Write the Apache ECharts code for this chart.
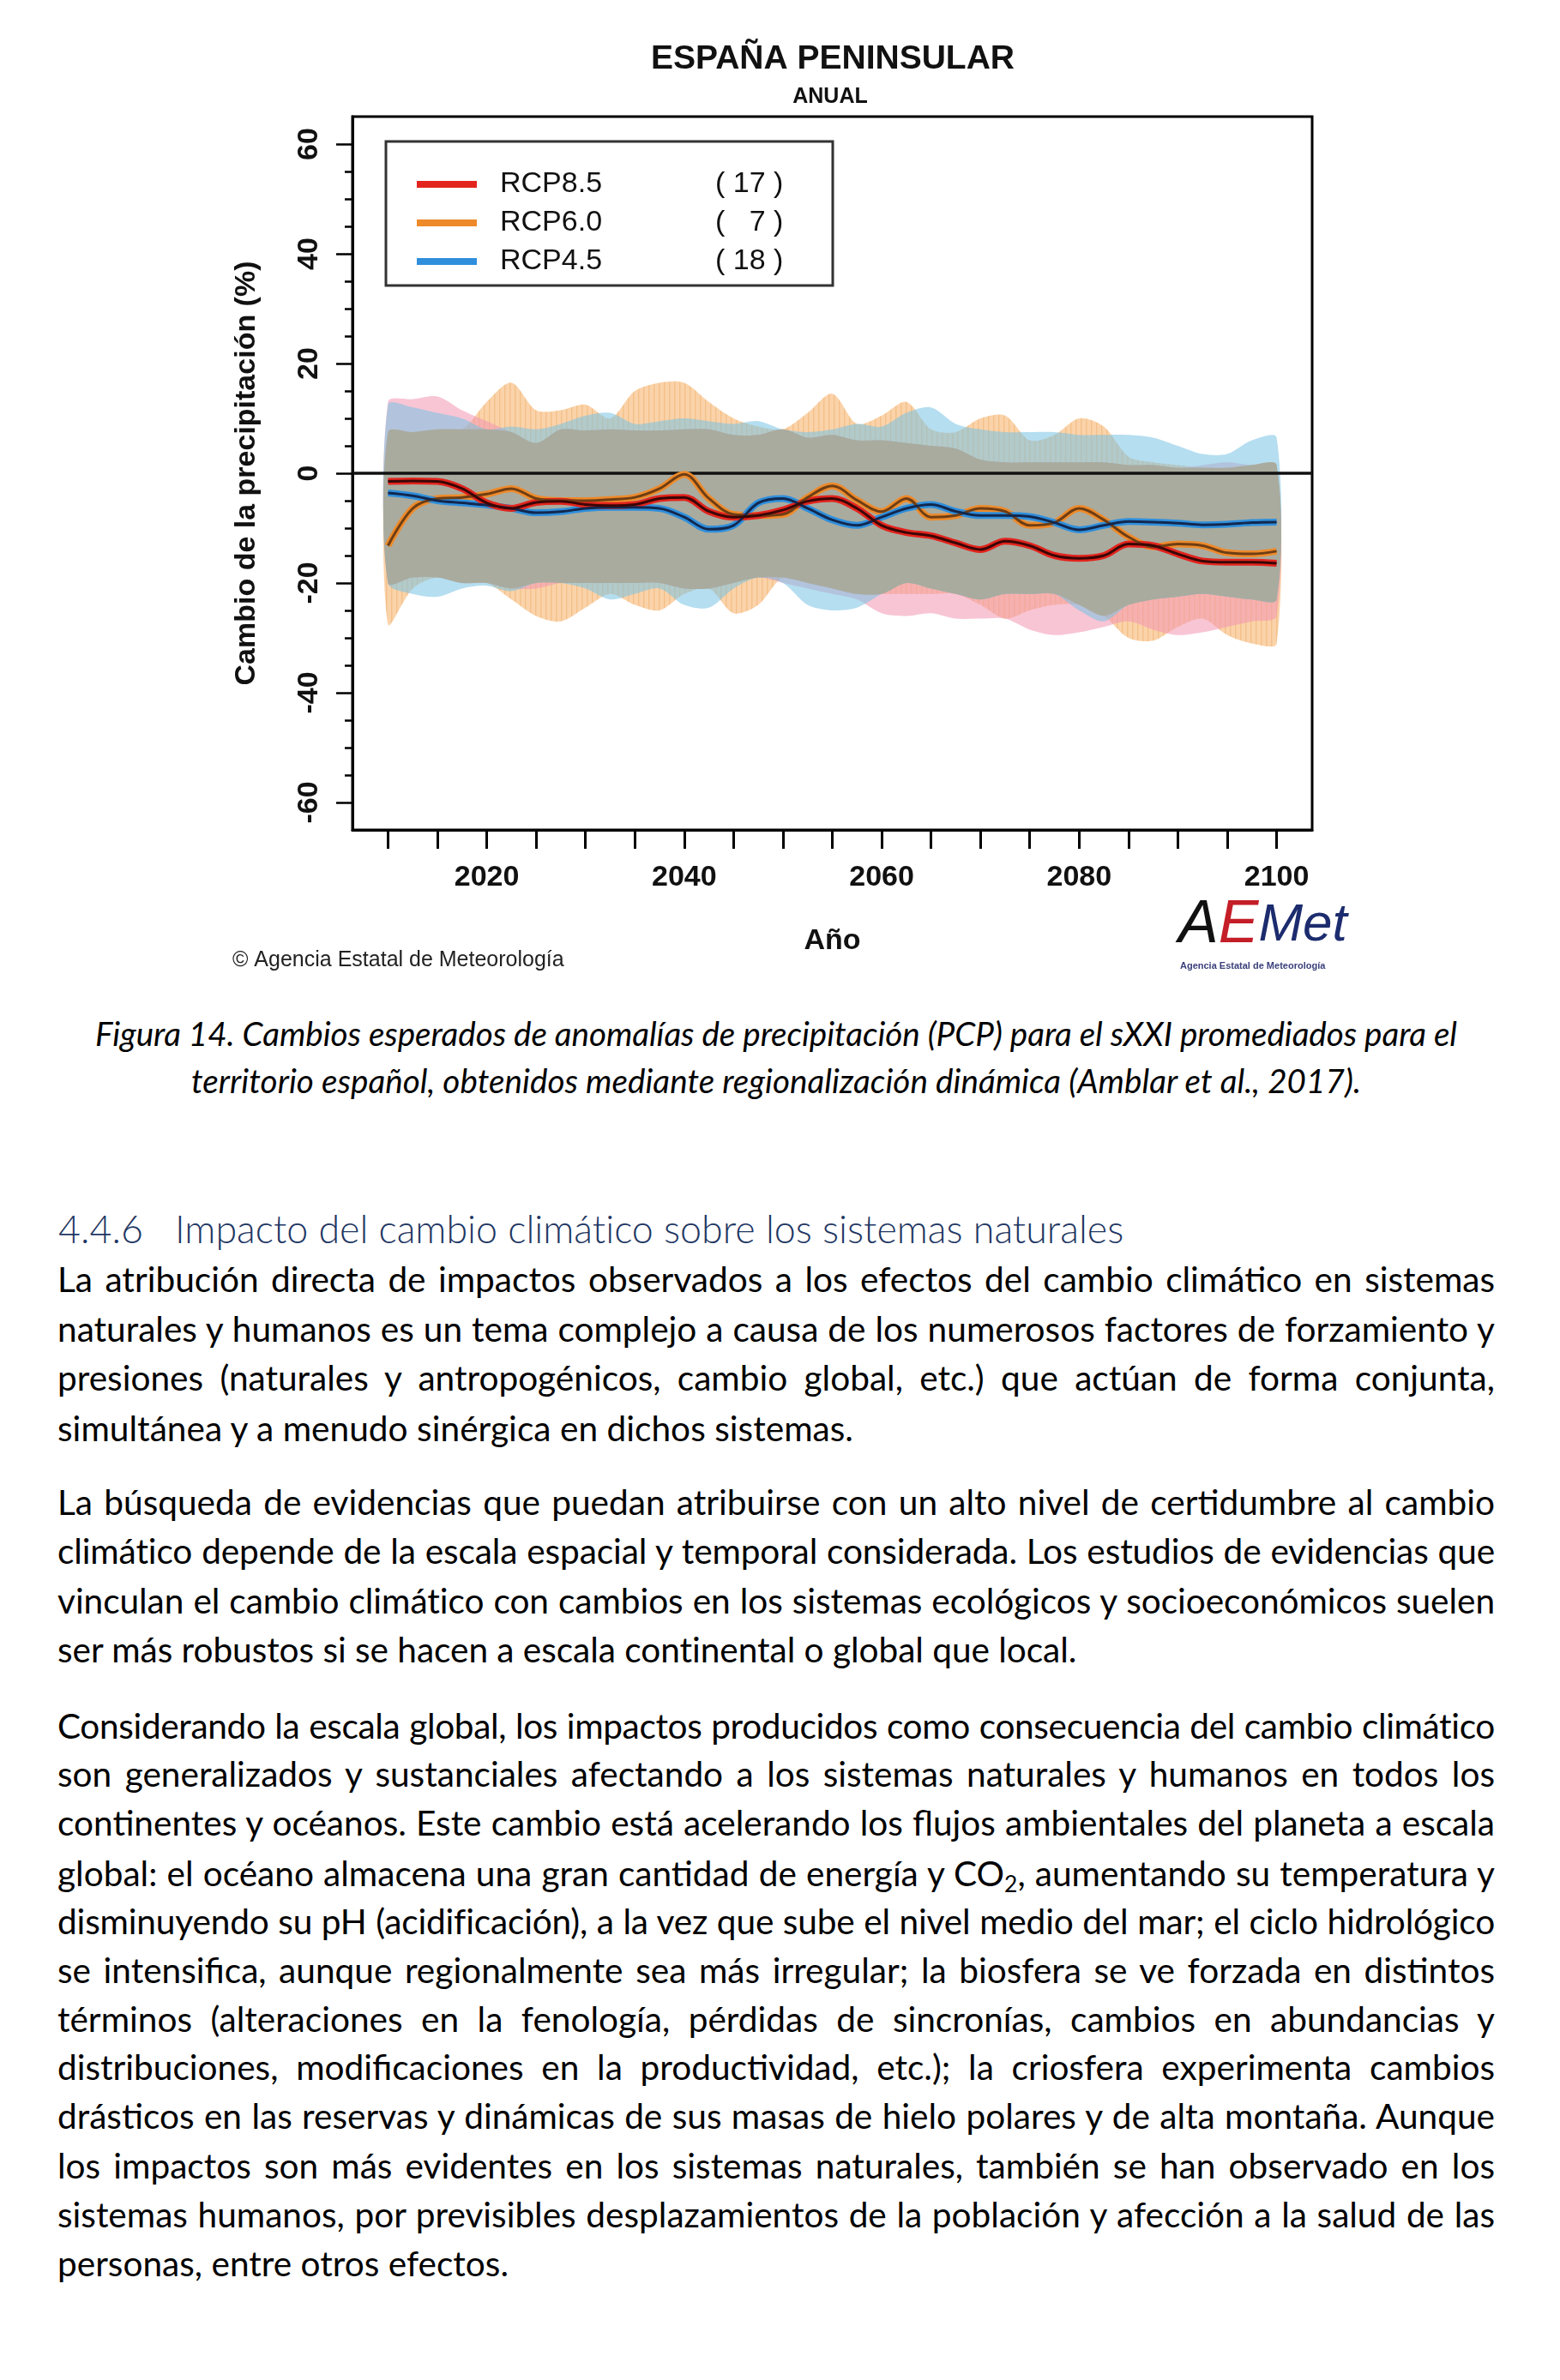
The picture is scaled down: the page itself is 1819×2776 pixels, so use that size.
<!DOCTYPE html>
<html><head><meta charset="utf-8">
<script src="https://cdn.jsdelivr.net/npm/echarts@6.0.0/dist/echarts.min.js"></script>
<style>
html,body{margin:0;padding:0;background:#fff;}
body{width:1819px;height:2776px;position:relative;overflow:hidden;}
#chart{position:absolute;left:0;top:0;width:1819px;height:1160px;}
.cap{position:absolute;left:67px;width:1676px;height:50px;line-height:50px;text-align:center;font-style:italic;font-size:33px;font-family:Lato,"Open Sans",sans-serif;color:#000;white-space:nowrap;}
.hd{position:absolute;height:56px;line-height:56px;font-weight:300;font-size:44px;font-family:Lato,"Open Sans",sans-serif;color:#1f3763;white-space:nowrap;}
.ln{position:absolute;left:67px;width:1676px;height:57px;line-height:57px;font-size:34px;font-family:Lato,"Open Sans",sans-serif;color:#000;}
.j{text-align:justify;text-align-last:justify;}
.l{white-space:nowrap;}
sub{font-size:0.65em;line-height:0;vertical-align:-0.25em;}
</style></head>
<body>
<div id="chart"></div>

<div class="cap" style="top:1180px" data-w="1588">Figura 14. Cambios esperados de anomalías de precipitación (PCP) para el sXXI promediados para el</div>
<div class="cap" style="top:1235px" data-w="1364">territorio español, obtenidos mediante regionalización dinámica (Amblar et al., 2017).</div>

<div class="hd" style="left:68px;top:1405px">4.4.6</div>
<div class="hd" id="hdt" style="left:204px;top:1405px" data-w="1107">Impacto del cambio climático sobre los sistemas naturales</div>

<div class="ln j" style="top:1463px">La atribución directa de impactos observados a los efectos del cambio climático en sistemas</div>
<div class="ln j" style="top:1521px">naturales y humanos es un tema complejo a causa de los numerosos factores de forzamiento y</div>
<div class="ln j" style="top:1578px">presiones (naturales y antropogénicos, cambio global, etc.) que actúan de forma conjunta,</div>
<div class="ln l" style="top:1637px" data-w="928">simultánea y a menudo sinérgica en dichos sistemas.</div>

<div class="ln j" style="top:1723px">La búsqueda de evidencias que puedan atribuirse con un alto nivel de certidumbre al cambio</div>
<div class="ln j" style="top:1780px">climático depende de la escala espacial y temporal considerada. Los estudios de evidencias que</div>
<div class="ln j" style="top:1838px">vinculan el cambio climático con cambios en los sistemas ecológicos y socioeconómicos suelen</div>
<div class="ln l" style="top:1895px" data-w="1189">ser más robustos si se hacen a escala continental o global que local.</div>

<div class="ln j" style="top:1984px">Considerando la escala global, los impactos producidos como consecuencia del cambio climático</div>
<div class="ln j" style="top:2040px">son generalizados y sustanciales afectando a los sistemas naturales y humanos en todos los</div>
<div class="ln j" style="top:2097px">continentes y océanos. Este cambio está acelerando los flujos ambientales del planeta a escala</div>
<div class="ln j" style="top:2156px">global: el océano almacena una gran cantidad de energía y CO<sub>2</sub>, aumentando su temperatura y</div>
<div class="ln j" style="top:2212px">disminuyendo su pH (acidificación), a la vez que sube el nivel medio del mar; el ciclo hidrológico</div>
<div class="ln j" style="top:2269px">se intensifica, aunque regionalmente sea más irregular; la biosfera se ve forzada en distintos</div>
<div class="ln j" style="top:2326px">términos (alteraciones en la fenología, pérdidas de sincronías, cambios en abundancias y</div>
<div class="ln j" style="top:2382px">distribuciones, modificaciones en la productividad, etc.); la criosfera experimenta cambios</div>
<div class="ln j" style="top:2439px">drásticos en las reservas y dinámicas de sus masas de hielo polares y de alta montaña. Aunque</div>
<div class="ln j" style="top:2497px">los impactos son más evidentes en los sistemas naturales, también se han observado en los</div>
<div class="ln j" style="top:2554px">sistemas humanos, por previsibles desplazamientos de la población y afección a la salud de las</div>
<div class="ln l" style="top:2611px" data-w="526">personas, entre otros efectos.</div>

<script>
// ---------------- DATA ----------------
const years = [2010,2012.5,2015,2017.5,2020,2022.5,2025,2027.5,2030,2032.5,2035,2037.5,2040,2042.5,2045,2047.5,2050,2052.5,2055,2057.5,2060,2062.5,2065,2067.5,2070,2072.5,2075,2077.5,2080,2082.5,2085,2087.5,2090,2092.5,2095,2097.5,2100];

const rcp85 = [-1.5,-1.4,-1.5,-2.8,-5.4,-6.4,-5.3,-5.1,-5.7,-5.9,-5.7,-4.6,-4.4,-6.95,-8.0,-7.7,-6.7,-5.1,-4.6,-6.4,-9.5,-10.8,-11.4,-12.7,-13.9,-12.4,-13.2,-15.0,-15.5,-15.0,-12.9,-13.2,-14.7,-16.0,-16.2,-16.2,-16.4];
const rcp60 = [-13.2,-6.4,-4.6,-4.4,-3.8,-2.8,-4.6,-5.0,-5.0,-4.8,-4.4,-2.8,-0.2,-4.6,-7.5,-7.7,-7.5,-4.4,-2.3,-4.9,-7.0,-4.6,-8.0,-7.7,-6.4,-6.95,-9.5,-9.0,-6.4,-8.5,-11.6,-13.4,-12.9,-13.2,-14.5,-14.7,-14.2];
const rcp45 = [-3.6,-4.1,-5.0,-5.4,-5.8,-6.4,-7.2,-7.0,-6.4,-6.2,-6.2,-6.4,-8.0,-10.2,-9.5,-5.4,-4.6,-6.4,-8.5,-9.5,-8.0,-6.4,-5.7,-6.95,-7.7,-7.7,-7.9,-9.0,-10.3,-9.5,-8.8,-8.9,-9.1,-9.4,-9.3,-9.0,-8.9];

const rcp85Up = [13.0,13.5,14.0,11.5,9.5,7.5,5.5,8.0,7.8,8.0,7.8,7.8,8.0,8.0,7.0,7.0,8.0,6.5,7.0,6.0,6.0,5.5,5.0,4.5,2.5,2.0,2.0,2.0,2.0,2.0,1.5,1.5,1.0,1.5,2.0,1.5,1.5];
const rcp85Lo = [-20,-19,-19,-20,-20,-21,-21,-20,-20,-20,-20,-20,-21,-21,-20,-19,-20,-21,-22,-23,-25.5,-26,-25.5,-26.5,-26.5,-26.5,-28.5,-29.5,-29,-28,-27,-28.5,-29.5,-29,-28,-27,-26];
const rcp60Up = [7.5,7.5,8.0,8.0,13.0,16.5,11.5,11.5,12.5,10.0,15.0,16.5,16.5,13.0,10.0,8.5,8.0,11.0,14.5,9.0,10.5,13.0,8.0,7.5,10.0,10.5,6.0,7.0,10.0,8.5,3.0,2.0,1.5,1.0,1.0,1.5,1.5];
const rcp60Lo = [-27.5,-21,-19,-20,-20,-23,-26,-27,-24.5,-22,-24,-25,-22,-21,-25.5,-24,-19,-20,-21,-22,-22,-22,-22,-22,-24,-26.5,-25,-24,-24,-26,-30,-30.5,-28,-26.5,-29.5,-31,-31];
const rcp45Up = [12.5,12.0,11.0,10.0,8.0,8.5,8.0,9.0,10.5,11.0,9.0,9.5,10.0,9.5,9.0,9.5,8.0,7.5,8.0,9.0,8.5,11.0,12.0,9.0,8.0,7.5,7.5,7.5,7.0,7.0,7.0,6.5,5.0,3.5,3.5,6.0,6.5];
const rcp45Lo = [-20,-22,-22.5,-21,-20.5,-21.5,-20,-20,-21,-23,-22,-21,-24,-24.5,-21,-19,-20,-24,-25,-24.5,-22,-20,-21,-22,-23,-22,-22,-22,-25,-27,-24,-23,-22.5,-22,-22.5,-23,-23];

const seriesNames = ['RCP8.5','RCP6.0','RCP4.5'];
const modelCounts = ['( 17 )','(   7 )','( 18 )'];

const xTickValues = [2010,2015,2020,2025,2030,2035,2040,2045,2050,2055,2060,2065,2070,2075,2080,2085,2090,2095,2100];
const xLabelValues = [2020,2040,2060,2080,2100];
const yMajorValues = [-60,-40,-20,0,20,40,60];
const yMinorValues = [-60,-55,-50,-45,-40,-35,-30,-25,-20,-15,-10,-5,0,5,10,15,20,25,30,35,40,45,50,55,60];

// ---------------- CHART ----------------
const FONT = '"Liberation Sans", Arial, Helvetica, sans-serif';
const pts = v => years.map((y, i) => [y, v[i]]);

// hatch pattern for RCP6.0 spread
const hatch = document.createElement('canvas');
hatch.width = 6; hatch.height = 8;
(function(){ const c = hatch.getContext('2d');
  c.fillStyle = 'rgba(247,175,100,0.55)'; c.fillRect(0,0,6,8);
  c.fillStyle = 'rgba(230,160,80,0.35)'; c.fillRect(0,0,1.5,8); })();

// spread band drawn as a polygon through the cartesian scales
function band(id, lo, up, fill, z) {
  return {
    type:'custom', name:id, coordinateSystem:'cartesian2d', silent:true, z:z, clip:true,
    data:[[years[0], lo[0]]],
    renderItem: (params, api) => {
      const p = [];
      for (let i = 0; i < years.length; i++) p.push(api.coord([years[i], up[i]]));
      for (let i = years.length - 1; i >= 0; i--) p.push(api.coord([years[i], lo[i]]));
      return {type:'polygon', shape:{points:p, smooth:0.3}, style:{fill:fill, stroke:null}};
    }
  };
}
// intersection of the three spreads (drawn grey, as in the original)
const coreLo = years.map((y,i)=>Math.max(rcp85Lo[i], rcp60Lo[i], rcp45Lo[i]));
const coreUp = years.map((y,i)=>Math.min(rcp85Up[i], rcp60Up[i], rcp45Up[i]));

function meanLine(name, vals, halo, core) {
  return [
    {type:'line', name:name, data: pts(vals), smooth:0.35, symbol:'none',
     lineStyle:{color:halo, width:8}, itemStyle:{color:halo}, z:5},
    {type:'line', name:name, data: pts(vals), smooth:0.35, symbol:'none',
     lineStyle:{color:core, width:3}, itemStyle:{color:halo}, z:6}
  ];
}

const zeroLine = {type:'line', name:'zero', data:[], z:4, silent:true,
  markLine:{silent:true, symbol:'none', label:{show:false}, animation:false,
    lineStyle:{color:'#111', width:3.5, type:'solid'}, data:[{yAxis:0}]}};

const series = [].concat(
  band('s60', rcp60Lo, rcp60Up, {image: hatch, repeat:'repeat'}, 1),
  band('s85', rcp85Lo, rcp85Up, 'rgba(242,150,178,0.55)', 1),
  band('s45', rcp45Lo, rcp45Up, 'rgba(120,195,228,0.55)', 1),
  band('core', coreLo, coreUp, '#a9ab9f', 2),
  zeroLine,
  meanLine('RCP6.0', rcp60, '#ee8a2a', '#6e3e14'),
  meanLine('RCP4.5', rcp45, '#2f8fdc', '#12284f'),
  meanLine('RCP8.5', rcp85, '#e3241d', '#3a0606')
);

const chart = echarts.init(document.getElementById('chart'), null, {renderer:'canvas'});
chart.setOption({
  animation:false,
  backgroundColor:'#fff',
  grid:{left:411, top:136, width:1119, height:832, show:true, borderColor:'#000', borderWidth:3, backgroundColor:'transparent'},
  xAxis:{type:'value', min:2006.4, max:2103.6,
    axisLine:{show:true, onZero:false, lineStyle:{color:'#000', width:3}},
    axisTick:{show:true, length:22, lineStyle:{color:'#000', width:3}, customValues:xTickValues},
    axisLabel:{customValues:xLabelValues, formatter: v => String(v), fontSize:34, fontWeight:'bold', color:'#111', fontFamily:FONT, margin:39},
    splitLine:{show:false},
    name:'Año', nameLocation:'middle', nameGap:113,
    nameTextStyle:{fontSize:34, fontWeight:'bold', color:'#111', fontFamily:FONT}},
  yAxis:[
    {type:'value', min:-65, max:65, position:'left',
     axisLine:{show:true, onZero:false, lineStyle:{color:'#000', width:3}},
     axisTick:{show:true, length:19, lineStyle:{color:'#000', width:2.5}, customValues:yMajorValues},
     axisLabel:{customValues:yMajorValues, formatter: v => String(v), rotate:90, fontSize:34, fontWeight:'bold', color:'#111', fontFamily:FONT, margin:33},
     splitLine:{show:false},
     name:'Cambio de la precipitación (%)', nameLocation:'middle', nameGap:106, nameRotate:90,
     nameTextStyle:{fontSize:34, fontWeight:'bold', color:'#111', fontFamily:FONT}},
    {type:'value', min:-65, max:65, position:'left', offset:0,
     axisLine:{show:false},
     axisTick:{show:true, length:9, lineStyle:{color:'#000', width:2.5}, customValues:yMinorValues},
     axisLabel:{show:false}, splitLine:{show:false}}
  ],
  legend:{data:seriesNames, orient:'vertical', left:481, top:193, itemWidth:70, itemHeight:8, itemGap:11,
    icon:'rect', z:20, selectedMode:false,
    formatter: name => '{a|' + name + '}{b|' + modelCounts[seriesNames.indexOf(name)] + '}',
    textStyle:{fontSize:34, fontFamily:FONT, color:'#111', lineHeight:31,
      rich:{a:{fontSize:34, fontFamily:FONT, color:'#111', width:251, padding:[0,0,0,22]},
            b:{fontSize:34, fontFamily:FONT, color:'#111'}}}},
  graphic:[
    {type:'text', x:971, y:69, z:30, style:{text:'ESPAÑA PENINSULAR', font:'bold 39px '+FONT, fill:'#111', textAlign:'center', textVerticalAlign:'middle'}},
    {type:'text', x:968, y:113, z:30, style:{text:'ANUAL', font:'bold 25px '+FONT, fill:'#111', textAlign:'center', textVerticalAlign:'middle'}},
    {type:'rect', z:15, shape:{x:450, y:165, width:521, height:168}, style:{fill:'#fff', stroke:'#333', lineWidth:3}},
    {type:'text', x:271, y:1120, z:30, style:{text:'© Agencia Estatal de Meteorología', font:'25px '+FONT, fill:'#222', textAlign:'left', textVerticalAlign:'middle'}},
    {type:'text', x:1374, y:1080, z:30, style:{
      text:'{a|A}{e|E}{m|Met}', textVerticalAlign:'middle', textAlign:'left',
      rich:{a:{font:'italic 70px '+FONT, fill:'#111'}, e:{font:'italic 70px '+FONT, fill:'#c41e28'}, m:{font:'italic 62px '+FONT, fill:'#1c2c6e'}}}},
    {type:'text', x:1376, y:1127, z:30, style:{text:'Agencia Estatal de Meteorología', font:'bold 11px '+FONT, fill:'#3a3f7a', textAlign:'left', textVerticalAlign:'middle'}}
  ],
  series: series
});

// ---------------- text fitting (font size and spacing only) ----------------
function natural(el){
  const m = document.createElement('span');
  m.style.cssText = 'position:absolute;visibility:hidden;white-space:nowrap;left:0;top:0;letter-spacing:0;';
  const cs = getComputedStyle(el);
  m.style.fontFamily = cs.fontFamily; m.style.fontSize = cs.fontSize;
  m.style.fontStyle = cs.fontStyle; m.style.fontWeight = cs.fontWeight;
  m.innerHTML = el.innerHTML;
  document.body.appendChild(m);
  const w = m.getBoundingClientRect().width;
  m.remove();
  return w;
}
function fitGroup(sel){
  const els = Array.from(document.querySelectorAll(sel));
  const ref = els.filter(e => e.dataset.w);
  let r = 0; ref.forEach(e => r += (+e.dataset.w) / natural(e)); r /= ref.length;
  els.forEach(e => { e.style.fontSize = (parseFloat(getComputedStyle(e).fontSize) * r) + 'px'; });
  ref.forEach(e => { const n = e.textContent.length; e.style.letterSpacing = (((+e.dataset.w) - natural(e)) / n) + 'px'; });
}
fitGroup('.cap');
fitGroup('.hd');
fitGroup('.ln');
document.querySelectorAll('.j').forEach(el => {
  const w = natural(el), n = el.textContent.length;
  if (w > 1670) el.style.letterSpacing = ((1668 - w) / n) + 'px';
});
</script>
</body></html>
